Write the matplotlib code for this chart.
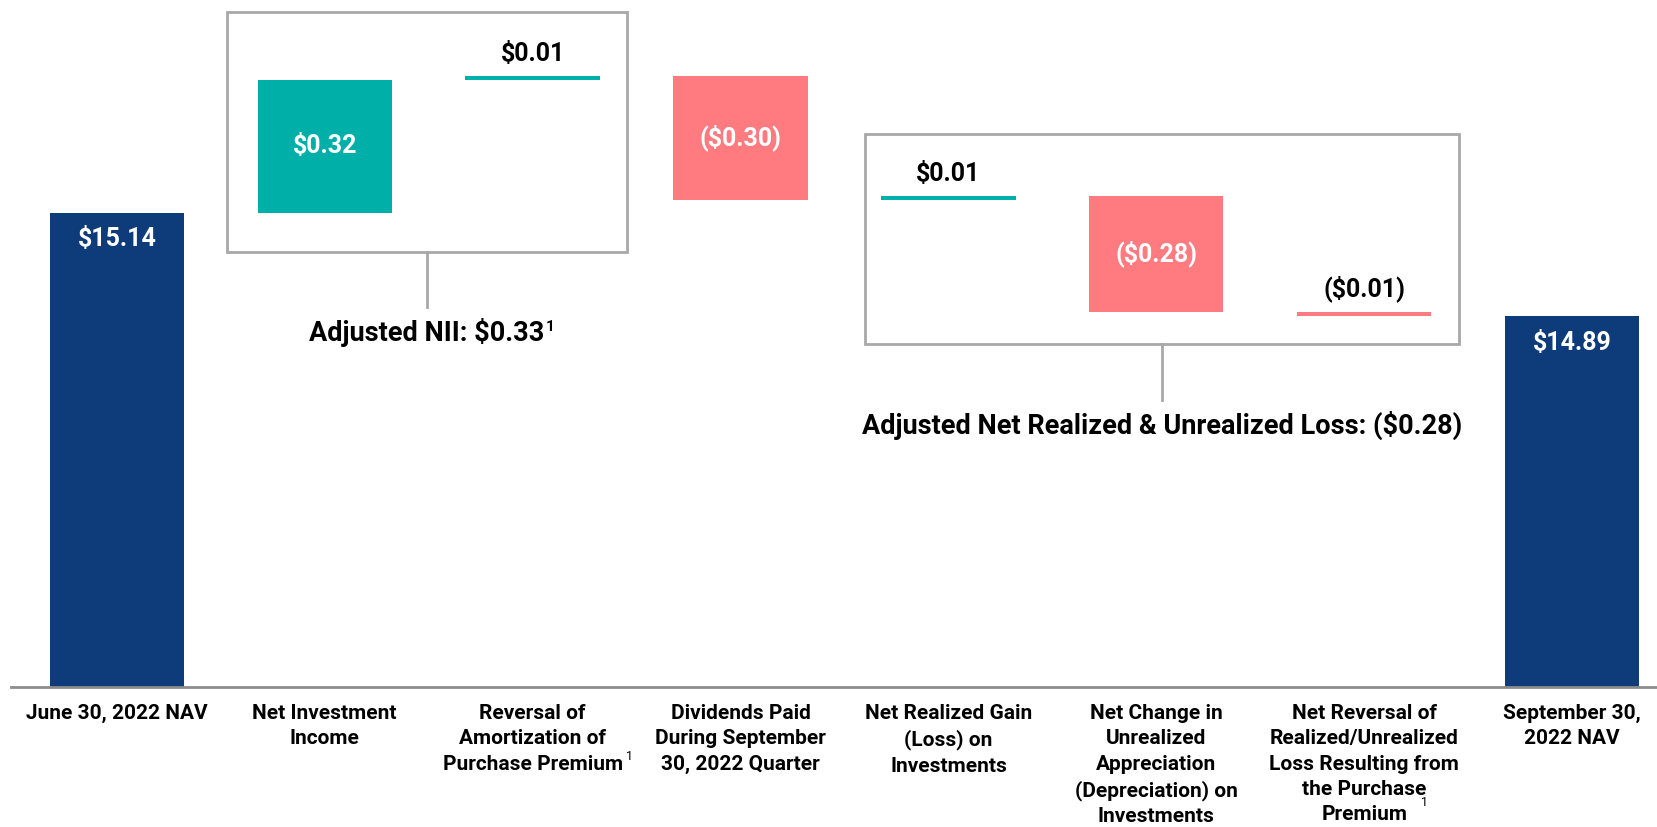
import numpy as np
import matplotlib
matplotlib.use('Agg')
import matplotlib.pyplot as plt
from matplotlib.patches import Rectangle

# =============================================================================
# DATA
# =============================================================================
categories = [
    "June 30, 2022 NAV",
    "Net Investment\nIncome",
    "Reversal of\nAmortization of\nPurchase Premium",
    "Dividends Paid\nDuring September\n30, 2022 Quarter",
    "Net Realized Gain\n(Loss) on\nInvestments",
    "Net Change in\nUnrealized\nAppreciation\n(Depreciation) on\nInvestments",
    "Net Reversal of\nRealized/Unrealized\nLoss Resulting from\nthe Purchase\nPremium",
    "September 30,\n2022 NAV",
]
start_nav = 15.14
changes = [0.32, 0.01, -0.30, 0.01, -0.28, -0.01]
end_nav = 14.89
value_labels = ["$15.14", "$0.32", "$0.01", "($0.30)", "$0.01", "($0.28)", "($0.01)", "$14.89"]

nii_label = "Adjusted NII: $0.33"
loss_label = "Adjusted Net Realized & Unrealized Loss: ($0.28)"

# =============================================================================
# STYLE
# =============================================================================
NAVY = '#0E3C7B'
TEAL = '#00AFA8'
SALMON = '#FF7B80'
BOX_GRAY = '#A8A8A8'
AXIS_GRAY = '#8C8C8C'
BAR_W = 0.646
plt.rcParams['font.family'] = ['Roboto', 'DejaVu Sans']
plt.rcParams['font.weight'] = 'bold'

# =============================================================================
# WATERFALL GEOMETRY
# =============================================================================
x = np.arange(len(categories))
levels = start_nav + np.cumsum([0] + changes)
bottoms, heights, colors = [13.0], [start_nav - 13.0], [NAVY]
for i, d in enumerate(changes):
    lo = min(levels[i], levels[i + 1])
    bottoms.append(lo)
    heights.append(abs(d))
    colors.append(TEAL if d > 0 else SALMON)
bottoms.append(13.0)
heights.append(end_nav - 13.0)
colors.append(NAVY)

fig = plt.figure(figsize=(16.58, 8.27), dpi=100)
ax = fig.add_axes([0.0064, 0.169, 0.9936, 0.831])
ax.bar(x, heights, bottom=bottoms, width=BAR_W, color=colors, zorder=2)
ax.set_xlim(-0.511, 7.413)
ax.set_ylim(13.995, 15.653)

for s in ['top', 'right', 'left']:
    ax.spines[s].set_visible(False)
ax.spines['bottom'].set_color(AXIS_GRAY)
ax.spines['bottom'].set_linewidth(2)
ax.set_yticks([])
ax.set_xticks([])

# x labels
for i, lab in enumerate(categories):
    ax.annotate(lab, (x[i], 0), xycoords=('data', 'axes fraction'),
                xytext=(0, -12), textcoords='offset points',
                ha='center', va='top', fontsize=15, linespacing=1.42,
                annotation_clip=False)
# footnote markers on the category labels
ax.annotate('1', (2.464, 0), xycoords=('data', 'axes fraction'),
            xytext=(0, -50), textcoords='offset points',
            ha='center', va='center', fontsize=9, weight='normal', annotation_clip=False)
ax.annotate('1', (6.29, 0), xycoords=('data', 'axes fraction'),
            xytext=(0, -83), textcoords='offset points',
            ha='center', va='center', fontsize=9, weight='normal', annotation_clip=False)

# value labels
for i in range(len(categories)):
    top = bottoms[i] + heights[i]
    if i in (0, len(categories) - 1):
        ax.annotate(value_labels[i], (x[i], top), xytext=(0, -19),
                    textcoords='offset points', ha='center', va='center',
                    color='white', fontsize=18)
    elif heights[i] < 0.05:
        ax.annotate(value_labels[i], (x[i], top), xytext=(0, 7),
                    textcoords='offset points', ha='center', va='bottom',
                    color='black', fontsize=18)
    else:
        ax.text(x[i], bottoms[i] + heights[i] / 2, value_labels[i],
                ha='center', va='center', color='white', fontsize=18)

# group boxes with connectors
def group_box(x0, x1, y0, y1, y_stem, label):
    ax.add_patch(Rectangle((x0, y0), x1 - x0, y1 - y0, fill=False,
                           edgecolor=BOX_GRAY, lw=2, zorder=1, clip_on=False))
    xc = (x0 + x1) / 2
    ax.plot([xc, xc], [y0, y_stem], color=BOX_GRAY, lw=2, zorder=1)
    return ax.annotate(label, (xc, y_stem), xytext=(0, -8), textcoords='offset points',
                       ha='center', va='top', fontsize=19.5)

t_nii = group_box(x[1] - 0.47, x[2] + 0.454, 15.046, 15.625, 14.913, nii_label)
group_box(x[4] - 0.401, x[6] + 0.457, 14.824, 15.329, 14.689, loss_label)

# superscript right after the NII text
fig.canvas.draw()
bb = t_nii.get_window_extent()
ax.annotate('1', (bb.x1 + 1, bb.y1 - 2), xycoords='figure pixels',
            ha='left', va='top', fontsize=11)

fig.savefig('out.png', dpi=100)
